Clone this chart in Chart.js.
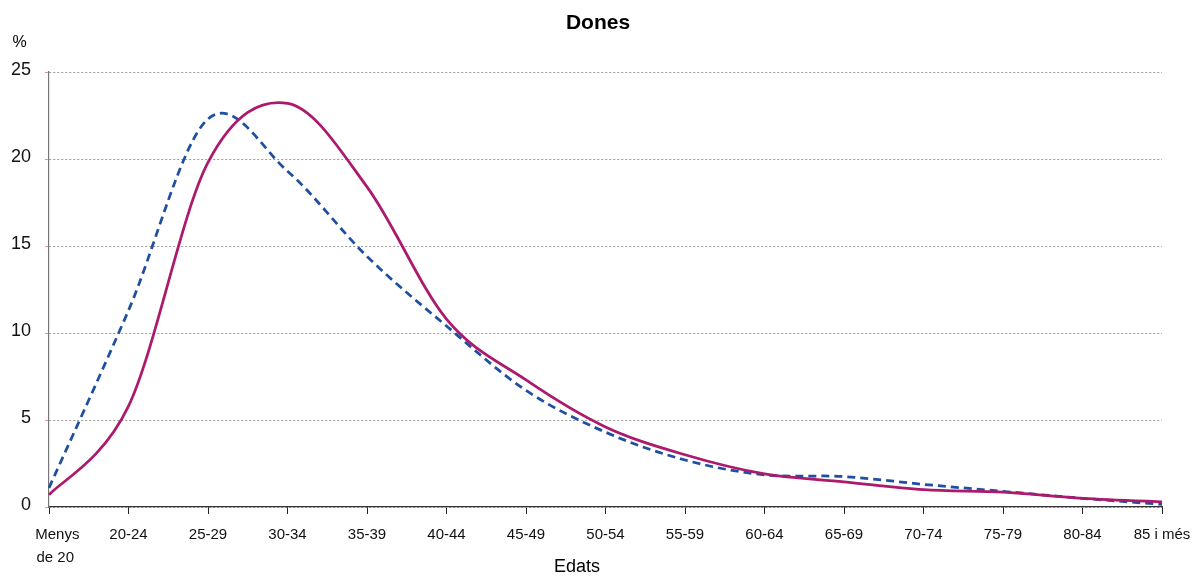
<!DOCTYPE html>
<html>
<head>
<meta charset="utf-8">
<script src="https://cdn.jsdelivr.net/npm/chart.js@4"></script>
<style>
  html, body { margin: 0; padding: 0; background: #fff; }
  #wrap { width: 1194px; height: 577px; position: relative; }
</style>
</head>
<body>
<div id="wrap"><canvas id="c" width="1194" height="577"></canvas></div>
<script>
const categories = [['Menys', 'de 20'], '20-24', '25-29', '30-34', '35-39', '40-44', '45-49', '50-54', '55-59', '60-64', '65-69', '70-74', '75-79', '80-84', '85 i més'];
const seriesBlue = [1.1, 11.3, 22.3, 19.3, 14.4, 10.4, 6.7, 4.3, 2.7, 1.85, 1.75, 1.3, 0.9, 0.5, 0.15];
const seriesMagenta = [0.7, 5.8, 19.8, 23.2, 18.4, 10.8, 7.3, 4.6, 3.0, 1.9, 1.45, 1.0, 0.85, 0.5, 0.3];
const yTicks = [0, 5, 10, 15, 20, 25];
const titleText = 'Dones';
const yUnit = '%';
const xTitle = 'Edats';

const FONT = "'Liberation Sans', Arial, Helvetica, sans-serif";

// Spreadsheet-style smoothing: uniform Catmull-Rom control points (1/6 rule)
const smoothPlugin = {
  id: 'smooth',
  beforeDatasetDraw(chart, args) {
    const meta = args.meta;
    const line = meta.dataset;
    if (!line) return;
    line.updateControlPoints(chart.chartArea, meta.indexAxis);
    const pts = meta.data;
    const n = pts.length;
    for (let i = 0; i < n; i++) {
      const p = pts[i];
      const prev = pts[Math.max(i - 1, 0)];
      const next = pts[Math.min(i + 1, n - 1)];
      const dx = (next.x - prev.x) / 6;
      const dy = (next.y - prev.y) / 6;
      p.cp1x = p.x - dx; p.cp1y = p.y - dy;
      p.cp2x = p.x + dx; p.cp2y = p.y + dy;
    }
    line._path = undefined;
  }
};

const textPlugin = {
  id: 'texts',
  afterDraw(chart) {
    const ctx = chart.ctx;
    ctx.save();
    ctx.fillStyle = '#000';
    ctx.textBaseline = 'middle';
    ctx.textAlign = 'center';
    ctx.font = 'bold 21px ' + FONT;
    ctx.fillText(titleText, 598, 23);
    ctx.font = '16px ' + FONT;
    ctx.fillText(yUnit, 19.5, 43);
    ctx.font = '18px ' + FONT;
    ctx.fillText(xTitle, 577, 567);
    ctx.restore();
  }
};

new Chart(document.getElementById('c'), {
  type: 'line',
  data: {
    labels: categories,
    datasets: [
      {
        data: seriesMagenta,
        borderColor: '#AC1A6E',
        borderWidth: 2.75,
        pointRadius: 0,
        tension: 0.4,
        capBezierPoints: false,
        fill: false
      },
      {
        data: seriesBlue,
        borderColor: '#1F4FA0',
        borderWidth: 2.75,
        borderDash: [8, 5],
        pointRadius: 0,
        tension: 0.4,
        capBezierPoints: false,
        fill: false
      }
    ]
  },
  options: {
    responsive: false,
    animation: false,
    devicePixelRatio: 1,
    layout: { padding: { top: 72, right: 32, left: 0, bottom: 0 } },
    plugins: { legend: { display: false }, title: { display: false }, tooltip: { enabled: false } },
    scales: {
      x: {
        type: 'category',
        offset: false,
        afterFit(s) { s.height = 70; s.paddingLeft = 0; s.paddingRight = 0; },
        grid: { drawOnChartArea: false, drawTicks: true, tickLength: 7, tickColor: '#222', lineWidth: 1 },
        border: { display: true, color: '#333', width: 1.2 },
        ticks: {
          color: '#111',
          font: { family: FONT, size: 15, lineHeight: 1.5 },
          padding: 10,
          maxRotation: 0,
          autoSkip: false,
          callback(value, index) {
            const lab = this.getLabelForValue(value);
            if (index === 0 && Array.isArray(lab)) {
              return ['    ' + lab[0], '   ' + lab[1]];
            }
            return lab;
          }
        }
      },
      y: {
        min: 0, max: 25,
        afterFit(s) { s.width = 49; s.paddingTop = 0; s.paddingBottom = 0; },
        afterBuildTicks(s) { s.ticks = yTicks.map(v => ({ value: v })); },
        grid: { color: '#999', lineWidth: 1, tickLength: 4, tickColor: '#E88BB8', drawTicks: true },
        border: { display: true, color: '#777', width: 1.2, dash: [2, 2] },
        ticks: { color: '#111', font: { family: FONT, size: 18 }, padding: 14, labelOffset: -1.5 }
      }
    }
  },
  plugins: [smoothPlugin, textPlugin]
});
</script>
</body>
</html>
